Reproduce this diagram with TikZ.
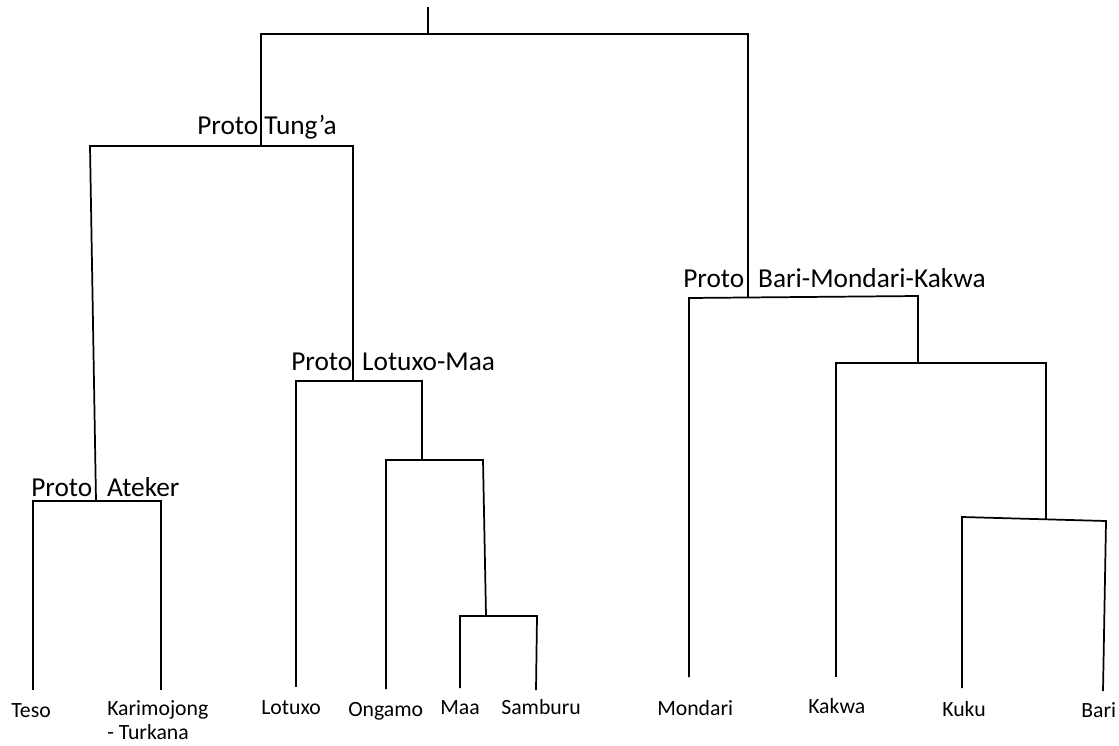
\documentclass[tikz,border=0pt]{standalone}
\usepackage{fontspec}
\setmainfont{Carlito}
\begin{document}
\begin{tikzpicture}[x=0.75pt,y=-0.75pt,
  branch/.style={draw=black,line width=1.3pt,line join=miter},
  proto/.style={anchor=base west,inner sep=0pt,font=\fontsize{20.5}{24}\selectfont},
  leaf/.style={anchor=base west,inner sep=0pt,font=\fontsize{16.3}{19}\selectfont}]
\useasboundingbox (0,0) rectangle (1119,745);

% root and first split
\coordinate (top) at (428,7);
\coordinate (root) at (428,34);
\coordinate (rl) at (261,34);
\coordinate (rr) at (748,34);

% Tung'a branch
\coordinate (tun) at (261,146);
\coordinate (tl) at (90,146);
\coordinate (tr) at (353,146);

% Ateker
\coordinate (ate) at (96,501);
\coordinate (al) at (33,501);
\coordinate (ar) at (161,501);
\coordinate (teso) at (33,690);
\coordinate (kari) at (161,690);

% Lotuxo-Maa
\coordinate (lm) at (353,381);
\coordinate (lml) at (296,381);
\coordinate (lmr) at (422,381);
\coordinate (lotu) at (296,687);
\coordinate (om) at (422,460);
\coordinate (oml) at (386,460);
\coordinate (omr) at (483,460);
\coordinate (onga) at (386,689);
\coordinate (ms) at (486,616);
\coordinate (msl) at (460,616);
\coordinate (msr) at (537,616);
\coordinate (maa) at (460,688);
\coordinate (samb) at (536,690);

% Bari-Mondari-Kakwa
\coordinate (bmk) at (748,297);
\coordinate (bl) at (689,298);
\coordinate (br) at (918,296);
\coordinate (mond) at (689,677);
\coordinate (kk) at (918,363);
\coordinate (kkl) at (836,363);
\coordinate (kkr) at (1046,363);
\coordinate (kakw) at (836,677);
\coordinate (kb) at (1046,519);
\coordinate (kbl) at (962,517);
\coordinate (kbr) at (1106,521);
\coordinate (kuku) at (962,688);
\coordinate (bari) at (1103,691);

% tree
\draw[branch] (top) -- (root);
\draw[branch] (tun) -- (rl) -- (rr) -- (bmk);
\draw[branch] (ate) -- (tl) -- (tr) -- (lm);
\draw[branch] (teso) -- (al) -- (ar) -- (kari);
\draw[branch] (lotu) -- (lml) -- (lmr) -- (om);
\draw[branch] (onga) -- (oml) -- (omr) -- (ms);
\draw[branch] (maa) -- (msl) -- (msr) -- (samb);
\draw[branch] (mond) -- (bl) -- (br) -- (kk);
\draw[branch] (kakw) -- (kkl) -- (kkr) -- (kb);
\draw[branch] (kuku) -- (kbl) -- (kbr) -- (bari);

% ancestor labels
\node[proto] (ltun) at (197,135) {Proto Tung’a};
\node[proto] (llm) at (291,370) {Proto\hspace{7.5pt}Lotuxo-Maa};
\node[proto] (late) at (31,496) {Proto\hspace{11.25pt}Ateker};
\node[proto] (lbmk) at (683,287) {Proto\hspace{10.5pt}Bari-Mondari-Kakwa};

% language labels
\node[leaf] (tteso) at (11,717) {Teso};
\node[leaf] (tkari) at (107,715) {Karimojong};
\node[leaf] (tturk) at (107,739) {- Turkana};
\node[leaf] (tlotu) at (261,714) {Lotuxo};
\node[leaf] (tonga) at (348,716) {Ongamo};
\node[leaf] (tmaa) at (440,714) {Maa};
\node[leaf] (tsamb) at (501,714) {Samburu};
\node[leaf] (tmond) at (657,715) {Mondari};
\node[leaf] (tkakw) at (808,713) {Kakwa};
\node[leaf] (tkuku) at (942,716) {Kuku};
\node[leaf] (tbari) at (1081,717) {Bari};
\end{tikzpicture}
\end{document}
